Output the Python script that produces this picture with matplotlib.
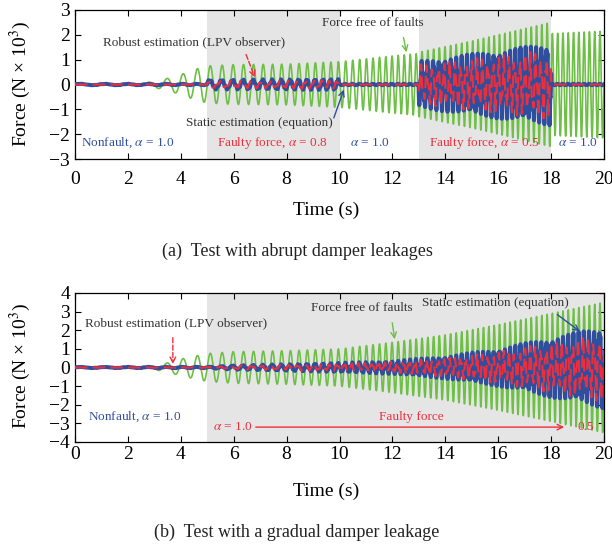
import numpy as np
import matplotlib
matplotlib.use('Agg')
import matplotlib.pyplot as plt

plt.rcParams['font.family'] = ['Liberation Serif', 'DejaVu Serif']
plt.rcParams['mathtext.fontset'] = 'stix'

GREEN = '#6dbf45'
BLUE = '#2f4f9e'
RED = '#ec2f3b'
GRAY = '#e5e5e5'
INK = '#333333'

# excitation frequency (Hz) read from spacing of the green peaks
freq_t = [0, 2, 3, 4, 5, 6, 8, 10, 12, 14, 16, 18, 20]
freq_hz = [1.0, 1.2, 1.45, 1.7, 2.1, 2.5, 3.0, 3.6, 4.3, 4.7, 5.0, 5.0, 5.0]

# (a) envelopes, x10^3 N
a_green_t = [0, 2.0, 2.5, 3.0, 3.5, 4.0, 4.5, 5.0, 6, 8, 10, 12, 12.99, 13.0, 15, 17.99, 18.0, 20]
a_green_amp = [0, 0.01, 0.05, 0.12, 0.25, 0.4, 0.6, 0.75, 0.8, 0.82, 0.92, 1.15, 1.25, 1.3, 1.75, 2.5, 2.05, 2.15]
a_blue_t = [0, 4.99, 5.0, 10.0, 10.01, 12.99, 13.0, 18.0, 18.01, 20]
a_blue_amp = [0.03, 0.03, 0.2, 0.22, 0.03, 0.03, 0.95, 1.65, 0.03, 0.03]
a_red_amp = [0.0, 0.0, 0.15, 0.17, 0.0, 0.0, 0.8, 1.4, 0.0, 0.0]

# (b) envelopes
b_green_t = [0, 2.0, 2.5, 3.0, 3.5, 4.0, 4.5, 5.0, 6, 8, 10, 12, 14, 16, 18, 20]
b_green_amp = [0, 0.01, 0.05, 0.12, 0.25, 0.45, 0.6, 0.75, 0.85, 0.9, 1.0, 1.35, 1.75, 2.3, 2.9, 3.5]
b_blue_t = [0, 5, 6, 8, 10, 12, 14, 16, 18, 20]
b_blue_amp = [0.03, 0.04, 0.12, 0.18, 0.25, 0.35, 0.6, 1.0, 1.6, 2.2]
b_red_amp = [0.0, 0.02, 0.1, 0.15, 0.2, 0.3, 0.5, 0.85, 1.35, 1.85]

t = np.linspace(0, 20, 14000)
phase = 2 * np.pi * np.cumsum(np.interp(t, freq_t, freq_hz)) * (t[1] - t[0])
g_shape = np.sin(phase)
b_shape = 0.8 * np.sin(phase + 0.3) + 0.2 * np.sin(4.1 * phase + 1.0)
r_shape = 0.7 * np.sin(phase + 1.2) + 0.3 * np.sin(2.2 * phase + 2.0)

fig = plt.figure(figsize=(6.12, 5.5), dpi=100)
ax_a = fig.add_axes([75 / 612, 1 - 159 / 550, 529 / 612, 149 / 550])
ax_b = fig.add_axes([75 / 612, 1 - 442 / 550, 529 / 612, 149 / 550])


def draw(ax, green, blue, red, shades, ylim):
    for x0, x1 in shades:
        ax.axvspan(x0, x1, color=GRAY, lw=0, zorder=0)
    ax.plot(t, green, color=GREEN, lw=1.2, zorder=2)
    ax.plot(t, blue, color=BLUE, lw=2.9, zorder=3)
    ax.plot(t, red, color=RED, lw=1.5, ls=(0, (6, 2.5)), zorder=4)
    ax.set_xlim(0, 20)
    ax.set_ylim(-ylim, ylim)
    ax.set_xticks(range(0, 21, 2))
    ax.set_yticks(range(-ylim, ylim + 1))
    ax.tick_params(direction='in', top=True, right=True, length=4, labelsize=14, width=0.8)
    for s in ax.spines.values():
        s.set_linewidth(0.9)


draw(ax_a,
     np.interp(t, a_green_t, a_green_amp) * g_shape,
     np.interp(t, a_blue_t, a_blue_amp) * b_shape,
     np.interp(t, a_blue_t, a_red_amp) * r_shape,
     [(5, 10), (13, 18)], 3)
draw(ax_b,
     np.interp(t, b_green_t, b_green_amp) * g_shape,
     np.interp(t, b_blue_t, b_blue_amp) * b_shape,
     np.interp(t, b_blue_t, b_red_amp) * r_shape,
     [(5, 20)], 4)
ax_a.tick_params(axis='x', pad=9)
ax_b.tick_params(axis='x', pad=3)

fs = 9.5
# panel (a) annotations
ax_a.text(4.5, 1.71, 'Robust estimation (LPV observer)', fontsize=fs, color=INK, ha='center', va='center')
ax_a.annotate('', xy=(6.84, 0.18), xytext=(6.43, 1.31),
              arrowprops=dict(arrowstyle='->', color=RED, lw=1, ls='--'))
ax_a.text(11.27, 2.48, 'Force free of faults', fontsize=fs, color=INK, ha='center', va='center')
ax_a.annotate('', xy=(12.55, 1.19), xytext=(12.4, 2.0),
              arrowprops=dict(arrowstyle='->', color=GREEN, lw=1))
ax_a.text(6.96, -1.55, 'Static estimation (equation)', fontsize=fs, color=INK, ha='center', va='center')
ax_a.annotate('', xy=(10.2, -0.1), xytext=(9.75, -1.45),
              arrowprops=dict(arrowstyle='->', color=BLUE, lw=1))
ax_a.text(2.0, -2.36, 'Nonfault, $\\alpha$ = 1.0', fontsize=fs, color=BLUE, ha='center', va='center')
ax_a.text(7.46, -2.36, 'Faulty force, $\\alpha$ = 0.8', fontsize=fs, color=RED, ha='center', va='center')
ax_a.text(11.15, -2.36, '$\\alpha$ = 1.0', fontsize=fs, color=BLUE, ha='center', va='center')
ax_a.text(15.46, -2.36, 'Faulty force, $\\alpha$ = 0.5', fontsize=fs, color=RED, ha='center', va='center')
ax_a.text(19.0, -2.36, '$\\alpha$ = 1.0', fontsize=fs, color=BLUE, ha='center', va='center')

# panel (b) annotations
ax_b.text(3.83, 2.39, 'Robust estimation (LPV observer)', fontsize=fs, color=INK, ha='center', va='center')
ax_b.annotate('', xy=(3.7, 0.03), xytext=(3.7, 1.75),
              arrowprops=dict(arrowstyle='->', color=RED, lw=1, ls='--'))
ax_b.text(10.85, 3.2, 'Force free of faults', fontsize=fs, color=INK, ha='center', va='center')
ax_b.annotate('', xy=(12.1, 1.37), xytext=(11.98, 2.55),
              arrowprops=dict(arrowstyle='->', color=GREEN, lw=1))
ax_b.text(15.9, 3.47, 'Static estimation (equation)', fontsize=fs, color=INK, ha='center', va='center')
ax_b.annotate('', xy=(19.17, 1.85), xytext=(18.15, 2.93),
              arrowprops=dict(arrowstyle='->', color=BLUE, lw=1))
ax_b.text(2.27, -2.66, 'Nonfault, $\\alpha$ = 1.0', fontsize=fs, color=BLUE, ha='center', va='center')
ax_b.text(12.7, -2.66, 'Faulty force', fontsize=fs, color=RED, ha='center', va='center')
ax_b.text(5.97, -3.2, '$\\alpha$ = 1.0', fontsize=fs, color=RED, ha='center', va='center')
ax_b.annotate('', xy=(18.6, -3.2), xytext=(6.73, -3.2),
              arrowprops=dict(arrowstyle='->', color=RED, lw=1))
ax_b.text(18.98, -3.2, '0.5', fontsize=fs, color=RED, ha='left', va='center')

# axis labels and captions
for yc in (84.5, 366):
    fig.text(20 / 612, 1 - yc / 550, 'Force (N × 10$^{3}$)', rotation=90, fontsize=14,
             ha='center', va='center')
fig.text(326 / 612, 1 - 210 / 550, 'Time (s)', fontsize=14, ha='center', va='center')
fig.text(326 / 612, 1 - 491 / 550, 'Time (s)', fontsize=14, ha='center', va='center')
fig.text(297 / 612, 1 - 251 / 550, '(a)  Test with abrupt damper leakages', fontsize=13,
         ha='center', va='center', color='#222222')
fig.text(297 / 612, 1 - 532 / 550, '(b)  Test with a gradual damper leakage', fontsize=13,
         ha='center', va='center', color='#222222')

fig.savefig('out.png', dpi=100)
